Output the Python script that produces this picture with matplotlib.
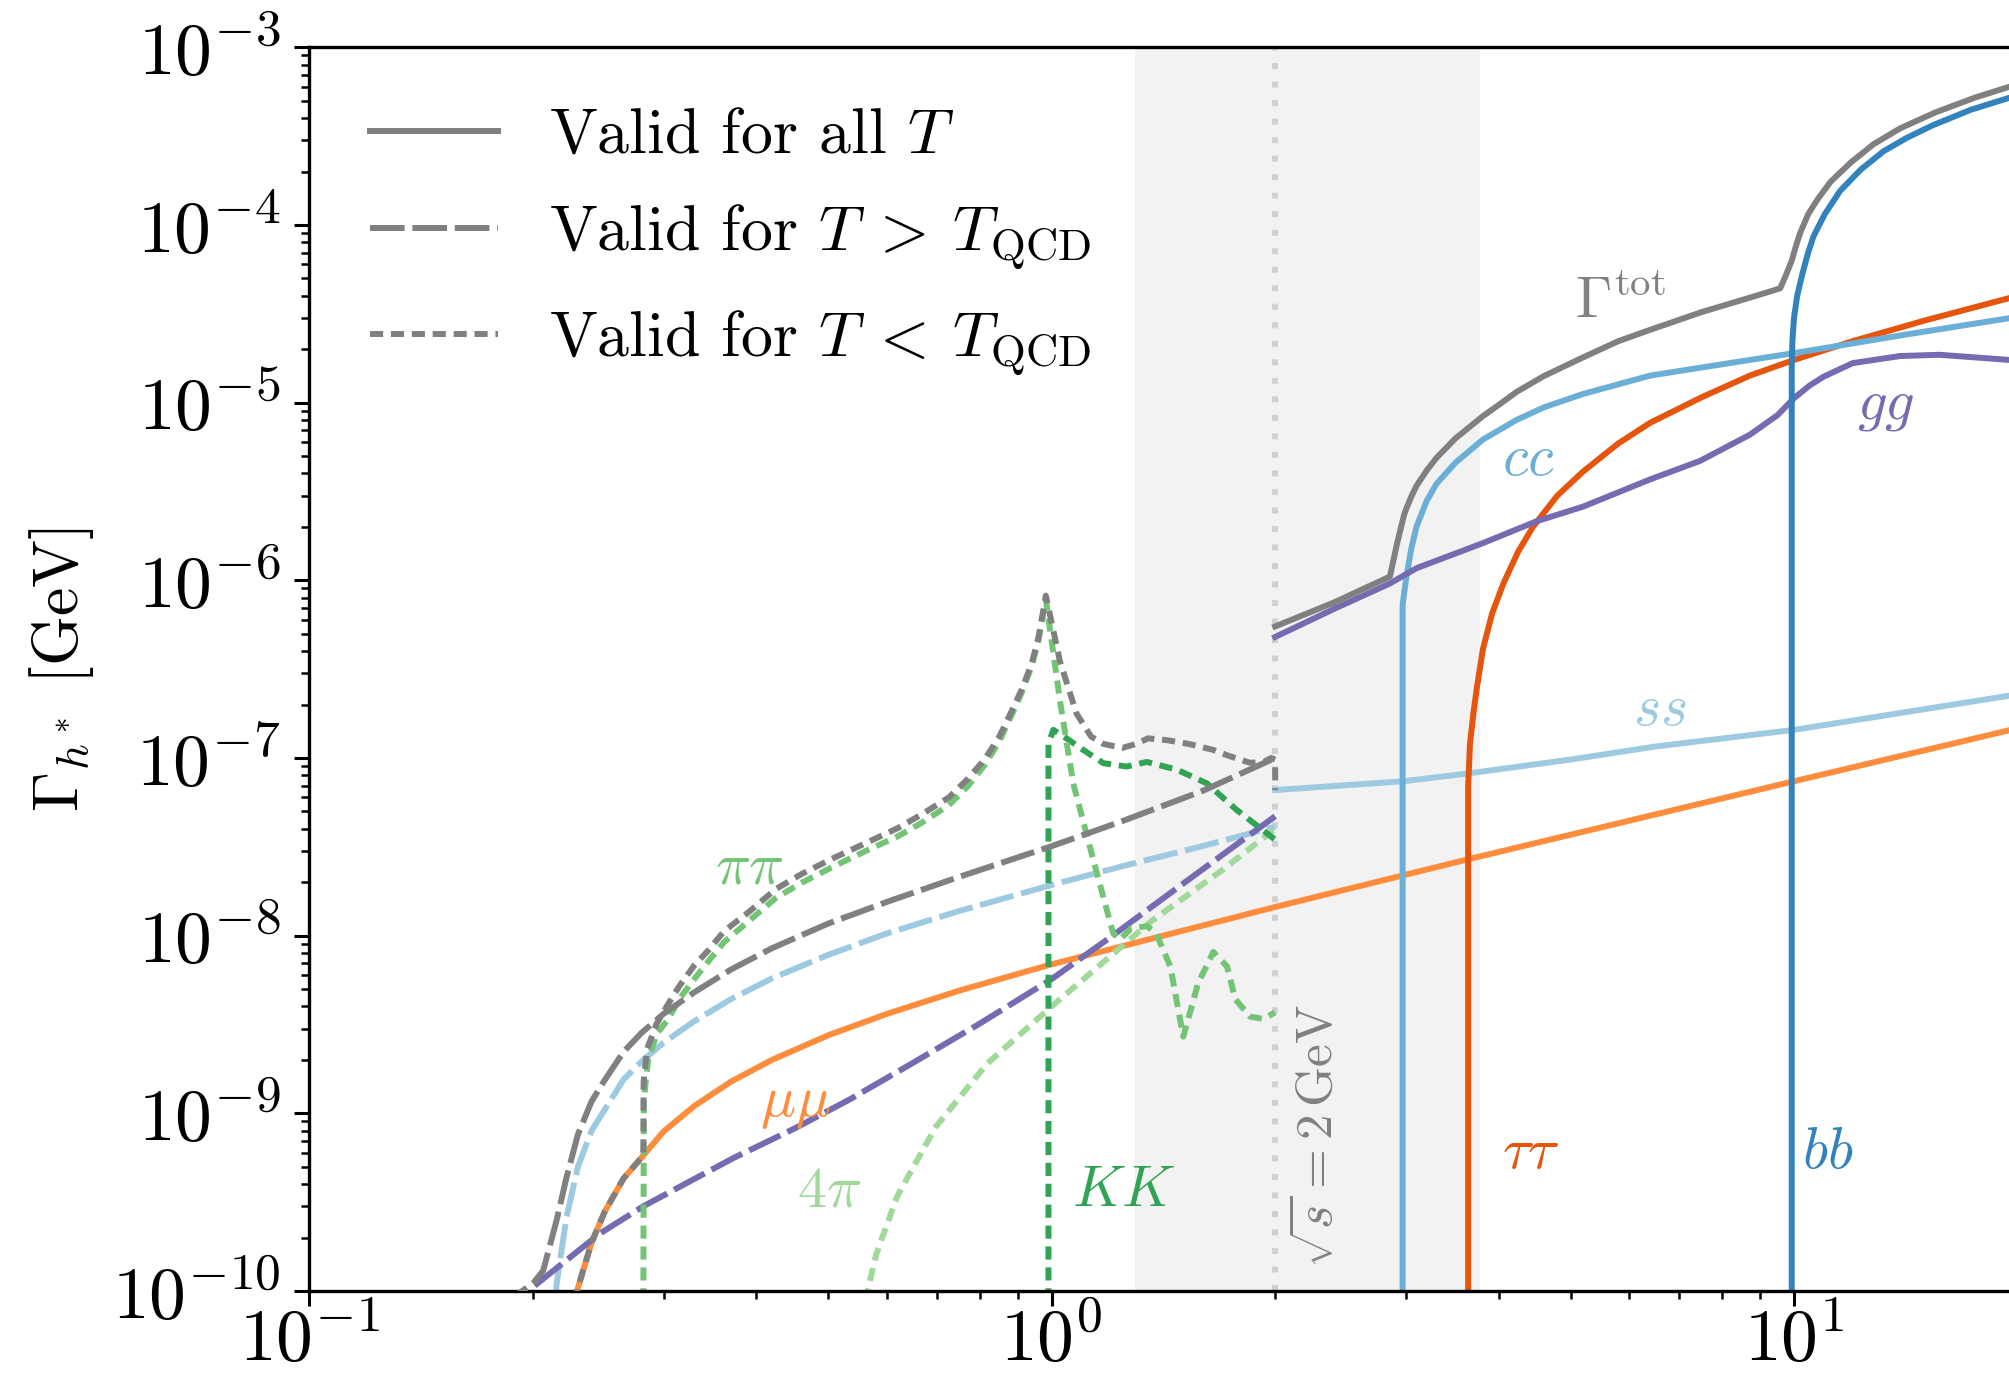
import numpy as np
import matplotlib
matplotlib.use("Agg")
import matplotlib.pyplot as plt
from matplotlib.lines import Line2D

plt.rcParams.update({
    "font.family": "serif",
    "font.serif": ["cmr10"],
    "mathtext.fontset": "cm",
    "axes.formatter.use_mathtext": True,
})

# ---- widths valid for all T (solid) ----
tot_x = [2.0, 2.4, 2.855, 2.92, 2.98, 3.0, 3.05, 3.10, 3.2, 3.30, 3.5, 3.81, 4.0, 4.23, 4.6, 5.2, 5.8, 6.4, 7.5, 8.72, 9.58,
         9.75, 9.93, 10.05, 10.19, 10.45, 10.74, 11.2, 11.9, 12.8, 13.9, 15.5, 17.5, 19.5, 22.0]
tot_y = [5.5e-7, 7.5e-7, 1.05e-6, 1.62e-6, 2.29e-6, 2.5e-6, 2.95e-6, 3.4e-6, 4.15e-6, 4.9e-6, 6.3e-6, 8.4e-6, 9.7e-6, 1.15e-5, 1.41e-5, 1.8e-5, 2.22e-5, 2.57e-5, 3.23e-5, 3.9e-5, 4.4e-5,
         5.2e-5, 6.3e-5, 7.5e-5, 9.0e-5, 1.15e-4, 1.38e-4, 1.75e-4, 2.23e-4, 2.85e-4, 3.5e-4, 4.3e-4, 5.2e-4, 6.0e-4, 6.8e-4]

cc_x = [2.97, 2.97, 3.0, 3.05, 3.10, 3.2, 3.30, 3.5, 3.81, 4.23, 4.6, 5.2, 6.4, 8.72, 10.0, 14.0, 19.5, 22.0]
cc_y = [1e-11, 7.3e-7, 1.0e-6, 1.5e-6, 2.0e-6, 2.8e-6, 3.5e-6, 4.6e-6, 6.2e-6, 8.0e-6, 9.4e-6, 1.12e-5, 1.42e-5, 1.74e-5, 1.9e-5, 2.4e-5, 2.99e-5, 3.25e-5]

gg_x = [2.0, 2.4, 2.855, 3.10, 3.81, 4.5, 5.2, 6.4, 7.47, 8.72, 9.5, 10.0, 10.5, 10.96, 12.0, 13.9, 15.7, 19.5, 22.0]
gg_y = [4.8e-7, 6.9e-7, 9.6e-7, 1.17e-6, 1.62e-6, 2.15e-6, 2.6e-6, 3.7e-6, 4.7e-6, 6.6e-6, 8.5e-6, 1.06e-5, 1.25e-5, 1.4e-5, 1.67e-5, 1.83e-5, 1.86e-5, 1.74e-5, 1.68e-5]

tautau_x = [3.64, 3.64, 3.66, 3.70, 3.74, 3.81, 3.92, 4.06, 4.25, 4.45, 4.8, 5.2, 5.8, 6.4, 7.5, 8.72, 10.0, 12.0, 15.0, 19.6, 22.0]
tautau_y = [1e-11, 7e-8, 1.2e-7, 1.8e-7, 2.5e-7, 4.1e-7, 6.5e-7, 9.6e-7, 1.45e-6, 2.0e-6, 3.0e-6, 4.1e-6, 5.9e-6, 7.7e-6, 1.07e-5, 1.42e-5, 1.74e-5, 2.22e-5, 2.9e-5, 3.9e-5, 4.4e-5]

bb_x = [9.93, 9.93, 9.95, 10.0, 10.1, 10.25, 10.45, 10.62, 11.0, 11.53, 12.3, 13.2, 14.2, 15.4, 17.3, 19.5, 22.0]
bb_y = [1e-11, 1.6e-5, 2.2e-5, 3.0e-5, 4.0e-5, 5.2e-5, 7.0e-5, 8.6e-5, 1.15e-4, 1.55e-4, 2.05e-4, 2.6e-4, 3.1e-4, 3.65e-4, 4.45e-4, 5.2e-4, 5.9e-4]

ss_x = [2.0, 2.98, 3.65, 5.0, 6.5, 10.0, 19.6, 22.0]
ss_y = [6.6e-8, 7.4e-8, 8.2e-8, 9.8e-8, 1.16e-7, 1.44e-7, 2.25e-7, 2.4e-7]

mumu_x = [0.2125, 0.215, 0.22, 0.225, 0.23, 0.24, 0.25, 0.265, 0.2818, 0.30, 0.33, 0.37, 0.42, 0.5, 0.6, 0.75, 1.0, 2.0, 3.65, 10.0, 19.6, 22.0]
mumu_y = [1.7e-12, 9.6e-12, 3.4e-11, 6.7e-11, 1.04e-10, 1.88e-10, 2.8e-10, 4.3e-10, 5.8e-10, 7.9e-10, 1.1e-9, 1.51e-9, 2.0e-9, 2.75e-9, 3.63e-9, 4.9e-9, 6.9e-9, 1.45e-8, 2.7e-8, 7.4e-8, 1.44e-7, 1.6e-7]

# ---- perturbative widths, T > T_QCD (dashed) ----
tot_hi_x = [0.18, 0.19, 0.2, 0.2065, 0.2153, 0.222, 0.23, 0.24, 0.25, 0.265, 0.28, 0.30, 0.33, 0.37, 0.42, 0.5, 0.6, 0.75, 1.0, 1.25, 1.6, 2.0]
tot_hi_y = [8e-11, 9.5e-11, 1.1e-10, 1.3e-10, 2.5e-10, 4.35e-10, 7.6e-10, 1.17e-9, 1.54e-9, 2.22e-9, 2.83e-9, 3.63e-9, 4.8e-9, 6.46e-9, 8.5e-9, 1.17e-8, 1.55e-8, 2.14e-8, 3.19e-8, 4.44e-8, 6.55e-8, 1.0e-7]

ss_hi_x = [0.208, 0.2153, 0.222, 0.23, 0.24, 0.25, 0.265, 0.28, 0.30, 0.33, 0.37, 0.42, 0.5, 0.6, 0.75, 1.0, 1.25, 1.6, 2.0]
ss_hi_y = [1e-11, 1.1e-10, 2.6e-10, 5.0e-10, 8.0e-10, 1.05e-9, 1.55e-9, 1.95e-9, 2.5e-9, 3.3e-9, 4.4e-9, 5.75e-9, 7.8e-9, 1.03e-8, 1.375e-8, 1.93e-8, 2.47e-8, 3.2e-8, 4.1e-8]

gg_hi_x = [0.18, 0.197, 0.246, 0.2818, 0.3725, 0.45, 0.535, 0.64, 0.8, 1.0, 1.2, 1.5, 2.0]
gg_hi_y = [8e-11, 1.0e-10, 2.1e-10, 3.0e-10, 5.6e-10, 8.2e-10, 1.2e-9, 1.85e-9, 3.2e-9, 5.7e-9, 9.8e-9, 1.95e-8, 4.7e-8]

# ---- hadronic widths, T < T_QCD (dotted) ----
tot_lo_x = [0.2125, 0.215, 0.22, 0.225, 0.23, 0.24, 0.25, 0.265, 0.2818, 0.2820, 0.285, 0.2937, 0.3046, 0.315, 0.33, 0.345, 0.362, 0.39,
            0.425, 0.46, 0.505, 0.56, 0.621, 0.67, 0.727, 0.77, 0.812, 0.85, 0.88, 0.91, 0.94, 0.96, 0.982,
            1.026, 1.08, 1.13, 1.174, 1.245, 1.30, 1.348, 1.43, 1.53, 1.651, 1.73, 1.85, 1.93, 1.975, 2.0, 2.0]
tot_lo_y = [1.7e-12, 9.6e-12, 3.4e-11, 6.7e-11, 1.04e-10, 1.88e-10, 2.8e-10, 4.3e-10, 5.8e-10, 1.5e-9, 2.3e-9, 3.2e-9, 4.15e-9, 5.2e-9, 6.8e-9, 8.3e-9, 1.06e-8, 1.35e-8,
            1.83e-8, 2.22e-8, 2.7e-8, 3.3e-8, 4.04e-8, 4.85e-8, 6.0e-8, 7.6e-8, 9.8e-8, 1.32e-7, 1.78e-7, 2.4e-7, 3.4e-7, 4.8e-7, 8.2e-7,
            3.5e-7, 1.78e-7, 1.32e-7, 1.2e-7, 1.14e-7, 1.2e-7, 1.29e-7, 1.26e-7, 1.2e-7, 1.11e-7, 1.03e-7, 9.4e-8, 9.5e-8, 1.0e-7, 9.8e-8, 6.6e-8]

pipi_x = [0.2818, 0.2818, 0.2822, 0.286, 0.2937, 0.3046, 0.315, 0.33, 0.345, 0.362, 0.39, 0.425, 0.46, 0.505, 0.56, 0.621, 0.67, 0.727,
          0.77, 0.812, 0.85, 0.88, 0.91, 0.94, 0.96, 0.982,
          1.026, 1.069, 1.138, 1.21, 1.235, 1.28, 1.343, 1.38, 1.445, 1.504, 1.575, 1.651, 1.723, 1.767, 1.85, 1.93, 2.0]
pipi_y = [1e-11, 1.0e-10, 1.2e-9, 2.0e-9, 2.8e-9, 3.4e-9, 4.4e-9, 5.7e-9, 7.2e-9, 9.2e-9, 1.2e-8, 1.63e-8, 1.98e-8, 2.42e-8, 2.98e-8, 3.63e-8, 4.35e-8, 5.43e-8,
          6.9e-8, 9.1e-8, 1.24e-7, 1.69e-7, 2.3e-7, 3.3e-7, 4.6e-7, 7.8e-7,
          2.1e-7, 7.2e-8, 2.67e-8, 1.03e-8, 9.5e-9, 1.1e-8, 1.13e-8, 1.05e-8, 6.7e-9, 2.7e-9, 5.4e-9, 8.1e-9, 6.7e-9, 4.4e-9, 3.5e-9, 3.4e-9, 3.7e-9]

KK_x = [0.99, 0.99, 1.005, 1.05, 1.103, 1.174, 1.262, 1.343, 1.474, 1.618, 1.775, 2.0]
KK_y = [1e-11, 1.2e-7, 1.44e-7, 1.28e-7, 1.11e-7, 9.35e-8, 8.95e-8, 9.5e-8, 8.6e-8, 7.2e-8, 5.1e-8, 3.47e-8]

fourpi_x = [0.55, 0.565, 0.58, 0.619, 0.698, 0.818, 1.0, 1.36, 1.7, 2.0]
fourpi_y = [1e-11, 1e-10, 1.6e-10, 3.4e-10, 8.4e-10, 1.9e-9, 4.0e-9, 1.2e-8, 2.35e-8, 4.0e-8]

c_gray = "#808080"
c_cc = "#6baed6"
c_ss = "#9ecae1"
c_bb = "#3182bd"
c_tau = "#e6550d"
c_mu = "#fd8d3c"
c_gg = "#756bb1"
c_pipi = "#74c476"
c_KK = "#31a354"
c_4pi = "#a1d99b"

lw = 4.3
dash_hi = (5.8, 1.3)
dash_lo = (2.2, 1.3)

fig = plt.figure(figsize=(20.09, 13.84), dpi=100)
# the axes run on past the right edge of the canvas
ax = fig.add_axes([0.154, 0.0672, 1.0265, 0.8986])
ax.set_xscale("log")
ax.set_yscale("log")
ax.set_xlim(0.1, 60)
ax.set_ylim(1e-10, 1e-3)

ax.axvspan(1.295, 3.77, color="#f2f2f2", lw=0, zorder=0)
ax.axvline(2.0, color="#d0d0d0", lw=4.3, dashes=(1.0, 2.1), zorder=1)

# solid
ax.plot(ss_x, ss_y, color=c_ss, lw=lw, zorder=2)
ax.plot(mumu_x, mumu_y, color=c_mu, lw=lw, zorder=2)
ax.plot(tautau_x, tautau_y, color=c_tau, lw=lw, zorder=2)
ax.plot(cc_x, cc_y, color=c_cc, lw=lw, zorder=2)
ax.plot(gg_x, gg_y, color=c_gg, lw=lw, zorder=2)
ax.plot(bb_x, bb_y, color=c_bb, lw=lw, zorder=2)
ax.plot(tot_x, tot_y, color=c_gray, lw=lw, zorder=3)

# dashed
ax.plot(ss_hi_x, ss_hi_y, color=c_ss, lw=lw, dashes=dash_hi, zorder=2)
ax.plot(gg_hi_x, gg_hi_y, color=c_gg, lw=lw, dashes=dash_hi, zorder=2)
ax.plot(tot_hi_x, tot_hi_y, color=c_gray, lw=lw, dashes=dash_hi, zorder=3)

# dotted
ax.plot(fourpi_x, fourpi_y, color=c_4pi, lw=lw, dashes=dash_lo, zorder=2)
ax.plot(KK_x, KK_y, color=c_KK, lw=lw, dashes=dash_lo, zorder=2)
ax.plot(pipi_x, pipi_y, color=c_pipi, lw=lw, dashes=dash_lo, zorder=2)
ax.plot(tot_lo_x, tot_lo_y, color=c_gray, lw=lw, dashes=dash_lo, zorder=3)

# channel labels
lab = 42
ax.text(5.07, 3.0e-5, r"$\Gamma^{\rm tot}$", color=c_gray, fontsize=lab, ha="left", va="baseline")
ax.text(4.04, 3.93e-6, r"$cc$", color=c_cc, fontsize=lab, ha="left", va="baseline")
ax.text(12.15, 8.0e-6, r"$gg$", color=c_gg, fontsize=lab, ha="left", va="baseline")
ax.text(6.07, 1.54e-7, r"$ss$", color=c_ss, fontsize=lab, ha="left", va="baseline")
ax.text(4.04, 4.9e-10, r"$\tau\tau$", color=c_tau, fontsize=lab, ha="left", va="baseline")
ax.text(10.25, 4.9e-10, r"$bb$", color=c_bb, fontsize=lab, ha="left", va="baseline")
ax.text(0.3516, 1.96e-8, r"$\pi\pi$", color=c_pipi, fontsize=lab, ha="left", va="baseline")
ax.text(0.4045, 9.6e-10, r"$\mu\mu$", color=c_mu, fontsize=lab, ha="left", va="baseline")
ax.text(0.4534, 3.0e-10, r"$4\pi$", color=c_4pi, fontsize=lab, ha="left", va="baseline")
ax.text(1.064, 3.0e-10, r"$KK$", color=c_KK, fontsize=lab, ha="left", va="baseline")
ax.text(2.28, 1.35e-10, r"$\sqrt{s} = 2\,\mathrm{GeV}$", color=c_gray, fontsize=37,
        rotation=90, ha="center", va="bottom")

handles = [
    Line2D([], [], color=c_gray, lw=lw),
    Line2D([], [], color=c_gray, lw=lw, dashes=dash_hi),
    Line2D([], [], color=c_gray, lw=lw, dashes=dash_lo),
]
labels = [r"Valid for all $T$", r"Valid for $T \: > \: T_{\rm QCD}$", r"Valid for $T \: < \: T_{\rm QCD}$"]
ax.legend(handles, labels, loc="upper left", frameon=False, fontsize=46,
          labelspacing=0.57, borderaxespad=0.55)

ax.set_ylabel(r"$\Gamma_{h^*}$ [GeV]", fontsize=46)
ax.yaxis.set_label_coords(-0.1036, 0.5)

for s in ax.spines.values():
    s.set_linewidth(2.4)
ax.tick_params(which="major", length=11, width=2.2, labelsize=53)
ax.tick_params(which="minor", length=6, width=1.8)
ax.tick_params(axis="x", which="major", pad=0)
ax.tick_params(axis="y", which="major", pad=10)

fig.savefig("out.png", dpi=100)
